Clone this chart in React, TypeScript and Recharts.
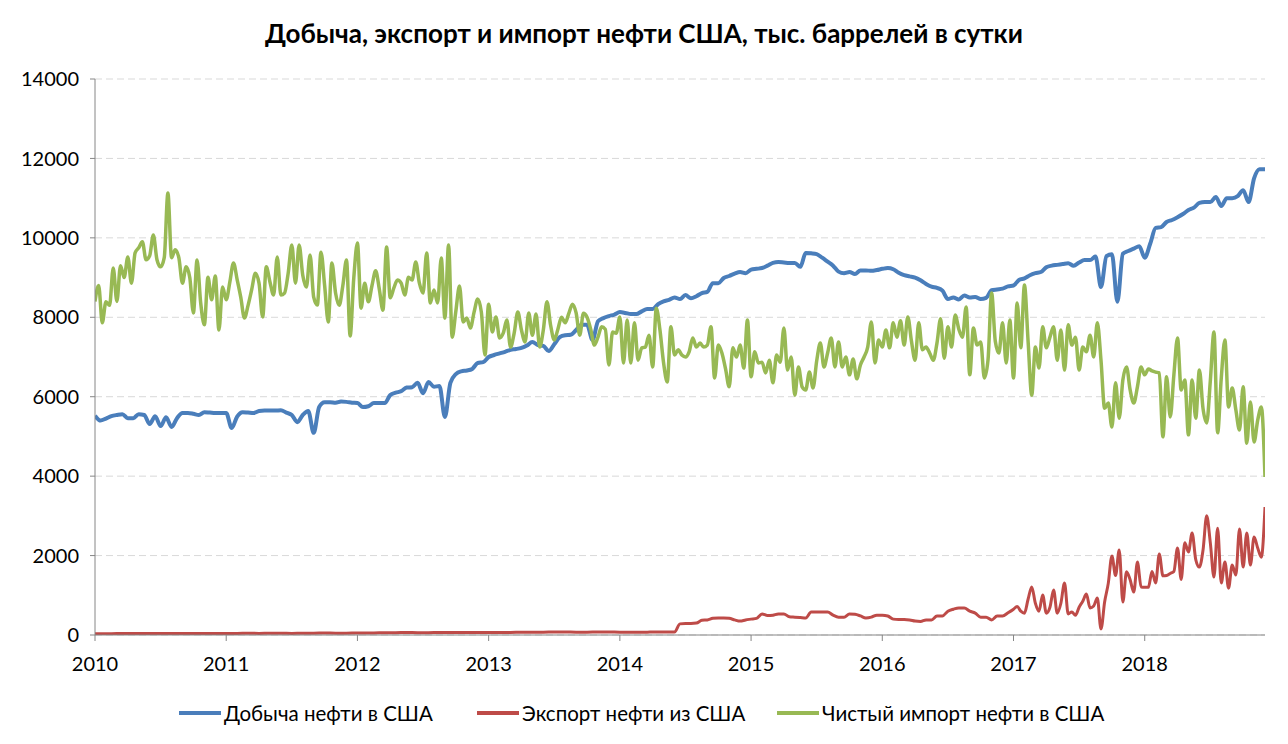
import React from 'react';
import { LineChart, Line, XAxis, YAxis, CartesianGrid } from 'recharts';

// Weekly-ish EIA series (тыс. баррелей в сутки)
const YEARS = [2010, 2011, 2012, 2013, 2014, 2015, 2016, 2017, 2018];
const Y_TICKS = [0, 2000, 4000, 6000, 8000, 10000, 12000, 14000];
const X_END = 2018 + 22 / 24;

const SERIES_NAMES = ['Добыча нефти в США', 'Экспорт нефти из США', 'Чистый импорт нефти в США'];
const TITLE = 'Добыча, экспорт и импорт нефти США, тыс. баррелей в сутки';

// production, 24 points a year
const blue2010 = [5520, 5400, 5450, 5510, 5540, 5560, 5460, 5460, 5560, 5540, 5310, 5510, 5260, 5480, 5240, 5460, 5590, 5590, 5570, 5540, 5610, 5600, 5590, 5590];
const blue2011 = [5590, 5210, 5500, 5610, 5600, 5590, 5640, 5650, 5650, 5650, 5660, 5600, 5540, 5360, 5540, 5640, 5090, 5740, 5860, 5860, 5850, 5880, 5870, 5850];
const blue2012 = [5840, 5740, 5760, 5840, 5840, 5840, 6040, 6100, 6140, 6230, 6240, 6350, 6090, 6370, 6250, 6270, 5490, 6350, 6570, 6640, 6660, 6700, 6850, 6870];
const blue2013 = [7000, 7050, 7090, 7130, 7180, 7200, 7230, 7290, 7380, 7300, 7280, 7150, 7320, 7500, 7550, 7560, 7680, 7810, 7810, 7430, 7900, 7980, 8030, 8070];
const blue2014 = [8130, 8110, 8080, 8080, 8150, 8210, 8210, 8330, 8400, 8440, 8500, 8460, 8560, 8480, 8530, 8610, 8640, 8860, 8860, 8990, 9040, 9100, 9140, 9110];
const blue2015 = [9200, 9220, 9240, 9300, 9370, 9390, 9380, 9370, 9370, 9270, 9620, 9610, 9590, 9500, 9400, 9300, 9150, 9110, 9140, 9090, 9180, 9180, 9170, 9190];
const blue2016 = [9220, 9240, 9210, 9120, 9060, 9030, 9000, 8930, 8840, 8770, 8740, 8670, 8460, 8500, 8450, 8550, 8500, 8510, 8460, 8490, 8680, 8700, 8720, 8780];
const blue2017 = [8800, 8940, 8980, 9060, 9110, 9140, 9260, 9300, 9320, 9340, 9360, 9300, 9380, 9440, 9440, 9530, 8760, 9540, 9590, 8390, 9600, 9670, 9730, 9790];
const blue2018 = [9500, 9850, 10250, 10270, 10400, 10450, 10520, 10600, 10700, 10760, 10880, 10900, 10900, 11030, 10800, 11000, 11000, 11050, 11200, 10900, 11500, 11730, 11730];

// exports, coarser while flat
const red2010 = [30, 30, 35, 35, 40, 40, 35, 35, 40, 40, 35, 35];
const red2011 = [40, 40, 45, 40, 45, 45, 40, 45, 45, 50, 45, 45];
const red2012 = [50, 50, 55, 55, 60, 60, 55, 60, 60, 65, 65, 65];
const red2013 = [60, 65, 65, 70, 70, 70, 75, 75, 70, 70, 75, 75];
const red2014 = [70, 70, 70, 70, 72, 72, 74, 74, 75, 75, 75, 280, 290, 290, 300, 370, 380, 420, 430, 430, 420, 380, 350, 380];
const red2015 = [400, 420, 530, 490, 500, 530, 530, 460, 450, 440, 430, 580, 580, 580, 580, 500, 450, 450, 530, 520, 480, 430, 450, 500];
const red2016 = [500, 480, 400, 390, 390, 380, 350, 340, 380, 380, 480, 480, 600, 650, 680, 680, 600, 550, 450, 450, 380, 480, 480, 560];
const red2017 = [650, 720, 600, 550, 900, 1210, 800, 600, 1010, 550, 700, 1130, 550, 800, 1310, 530, 580, 500, 700, 850, 1030, 680, 730, 930, 150, 830, 1300, 1990, 1500, 2140, 830, 1590, 1390, 1080, 1840, 1210];
const red2018 = [1200, 1200, 1600, 1310, 2040, 1490, 1500, 1550, 1600, 2190, 1400, 2320, 2090, 2570, 1900, 1710, 2140, 3000, 2320, 1460, 2690, 1310, 1840, 1180, 1760, 1510, 2670, 1710, 2570, 1760, 2470, 2190, 1960, 3220];

// net imports, 36 points a year
const green2010 = [8400, 8800, 7860, 8390, 8300, 9240, 8400, 9300, 9000, 9520, 8860, 9620, 9750, 9900, 9450, 9550, 10070, 9450, 9270, 9500, 11130, 9500, 9700, 9500, 8860, 9270, 9000, 8110, 9440, 8360, 7810, 9010, 8440, 9040, 7680, 8760];
const green2011 = [8440, 8890, 9370, 8950, 8500, 7980, 8300, 8700, 9110, 8860, 8010, 9270, 8890, 8560, 9520, 8560, 8610, 9110, 9820, 8860, 9820, 9060, 8760, 9570, 8510, 8310, 9640, 8800, 7880, 9370, 8610, 8300, 8800, 9440, 7530, 8990];
const green2012 = [9870, 8230, 8860, 8390, 8800, 9170, 8710, 8180, 9770, 8490, 8740, 8940, 8860, 8560, 9010, 8940, 9390, 8860, 8610, 9620, 8360, 8690, 8360, 9490, 7980, 9820, 7500, 8150, 8790, 7880, 7980, 7730, 8130, 8460, 8130, 7050];
const green2013 = [8330, 7630, 8010, 7480, 7600, 7930, 7250, 7600, 8130, 7680, 7380, 8110, 7550, 8080, 7250, 7680, 8390, 7800, 7430, 7700, 8000, 7860, 8100, 8330, 8110, 7550, 8100, 8000, 7700, 7300, 7500, 7760, 7700, 6800, 7630, 7600];
const green2014 = [8010, 6850, 7930, 6850, 7860, 6920, 7230, 7250, 7550, 6750, 8230, 7680, 6850, 6370, 7760, 7050, 7180, 7050, 7000, 7130, 7480, 7250, 7350, 7250, 7300, 7760, 6470, 7300, 7100, 6700, 6250, 7230, 7000, 7300, 6720, 7930];
const green2015 = [6500, 7130, 6850, 6870, 6600, 6920, 6350, 7050, 6870, 7730, 6670, 7000, 6040, 6750, 6250, 6170, 6620, 6220, 6900, 7350, 6750, 7100, 7480, 6750, 7380, 6750, 7000, 6550, 6950, 6450, 6800, 7000, 7250, 7880, 6850, 7430];
const green2016 = [7250, 7680, 7230, 7860, 7500, 7910, 7300, 8010, 7400, 6920, 7860, 7180, 7250, 7100, 6920, 7350, 7960, 6970, 7760, 7250, 8060, 7700, 7500, 8260, 6550, 7730, 7300, 7380, 6470, 6920, 8610, 7400, 7100, 7860, 6850, 7930];
const green2017 = [6470, 8360, 7230, 8810, 7400, 6040, 7250, 6720, 7760, 7230, 7500, 7760, 6920, 7680, 6670, 7810, 7300, 7500, 6670, 7250, 7130, 7550, 7000, 7860, 6920, 5710, 5840, 5240, 6350, 5460, 6420, 6750, 6170, 5840, 6250, 6750];
const green2018 = [6550, 6700, 6650, 6620, 6600, 4990, 6500, 5490, 6550, 7480, 6170, 6420, 5040, 6420, 5460, 6670, 5700, 5340, 6400, 7630, 5090, 6470, 7430, 5740, 6220, 5670, 5160, 6250, 4830, 5870, 4860, 5410, 5740, 3980];

const BLUE_STEPS = [24, 24, 24, 24, 24, 24, 24, 24, 24];
const RED_STEPS = [12, 12, 12, 12, 24, 24, 24, 36, 36];
const GREEN_STEPS = [36, 36, 36, 36, 36, 36, 36, 36, 36];

const COLORS = {
  prod: '#4a7ebb',
  exp: '#be4b48',
  imp: '#98b954',
  axis: '#868686',
  grid: '#d9d9d9',
  text: '#000000',
};
const FONT = 'Lato, "Open Sans", "DejaVu Sans", sans-serif';

function toSeries(years: number[][], steps: number[]) {
  const out: Array<{ t: number; v: number }> = [];
  years.forEach((vals, k) => {
    vals.forEach((v, i) => out.push({ t: YEARS[k] + i / steps[k], v }));
  });
  return out;
}

const prodData = toSeries([blue2010, blue2011, blue2012, blue2013, blue2014, blue2015, blue2016, blue2017, blue2018], BLUE_STEPS);
const expData = toSeries([red2010, red2011, red2012, red2013, red2014, red2015, red2016, red2017, red2018], RED_STEPS);
const impData = toSeries([green2010, green2011, green2012, green2013, green2014, green2015, green2016, green2017, green2018], GREEN_STEPS);

const LEGEND = [
  { name: SERIES_NAMES[0], color: COLORS.prod, left: 179 },
  { name: SERIES_NAMES[1], color: COLORS.exp, left: 477 },
  { name: SERIES_NAMES[2], color: COLORS.imp, left: 777 },
];

export default function App() {
  const tick = { fontFamily: FONT, fontSize: 20, fill: COLORS.text };
  return (
    <div style={{ position: 'absolute', left: 0, top: 0, width: 1288, height: 744, background: '#fff' }}>
      <div style={{
        position: 'absolute', left: 0, top: 17, width: 1288, textAlign: 'center',
        fontFamily: FONT, fontWeight: 700, fontSize: 26, color: COLORS.text,
      }}>{TITLE}</div>

      <LineChart width={1288} height={744} margin={{ top: 79, right: 23, bottom: 69, left: 0 }}>
        <CartesianGrid vertical={false} stroke={COLORS.grid} strokeDasharray="7 4" />
        <XAxis type="number" dataKey="t" domain={[2010, X_END]} ticks={YEARS} allowDataOverflow
               height={40} stroke={COLORS.axis} tickSize={6} tickMargin={16} tick={tick} interval={0} />
        <YAxis type="number" domain={[0, 14000]} ticks={Y_TICKS} width={95} allowDataOverflow
               stroke={COLORS.axis} tickSize={5} tickMargin={11} tick={tick} interval={0} />
        <Line data={prodData} dataKey="v" type="monotone" stroke={COLORS.prod} strokeWidth={4}
              dot={false} isAnimationActive={false} strokeLinejoin="round" />
        <Line data={expData} dataKey="v" type="monotone" stroke={COLORS.exp} strokeWidth={3}
              dot={false} isAnimationActive={false} strokeLinejoin="round" />
        <Line data={impData} dataKey="v" type="monotone" stroke={COLORS.imp} strokeWidth={3.5}
              dot={false} isAnimationActive={false} strokeLinejoin="round" />
      </LineChart>

      {LEGEND.map(item => (
        <div key={item.name} style={{
          position: 'absolute', left: item.left, top: 700, height: 26,
          display: 'flex', alignItems: 'center', fontFamily: FONT, fontSize: 20.5, color: COLORS.text,
        }}>
          <span style={{ display: 'inline-block', width: 42, height: 4, background: item.color, marginRight: 3 }} />
          <span>{item.name}</span>
        </div>
      ))}
    </div>
  );
}
